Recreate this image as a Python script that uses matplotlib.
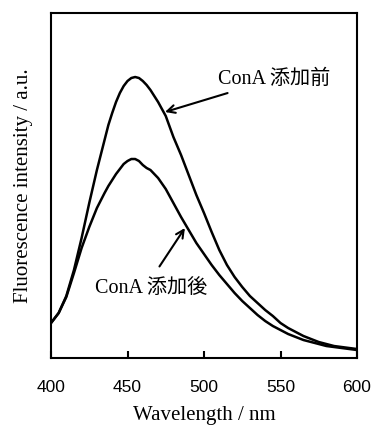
import matplotlib
matplotlib.use("Agg")
import matplotlib.pyplot as plt

# wavelength grid (nm) and intensities (a.u.)
wavelength = [400, 405, 410, 415, 420, 425, 430, 435, 437.5, 440, 442.5, 445,
              447.5, 450, 452.5, 455, 457.5, 460, 462.5, 465, 467.5, 470,
              475, 480, 485, 490, 495, 500, 505, 510, 515, 520, 525,
              530, 535, 540, 545, 550, 555, 560, 565, 570, 575, 580, 585, 590,
              595, 600]
before_cona = [35, 45, 62, 88, 120, 155, 188, 218, 233, 245, 256, 265,
               272, 277, 280, 281, 280, 277, 273, 268, 262, 256,
               242, 221, 203, 183, 163, 145, 126, 108, 93, 81, 71,
               62, 55, 48, 42, 35, 30, 26, 22, 19, 16, 14, 12, 11, 10, 9]
after_cona = [35, 45, 61, 85, 110, 131, 150, 165, 172, 178, 184, 189,
              194, 197, 199, 199, 197, 193, 190, 188, 184, 180,
              169, 155, 141, 128, 115, 104, 93, 83, 74, 65, 57,
              50, 43, 37, 32, 28, 24, 21, 18, 16, 14, 12, 11, 10, 9, 8]
xticks = [400, 450, 500, 550, 600]
label_before = "ConA 添加前"
label_after = "ConA 添加後"

serif = ["Liberation Serif", "Noto Sans CJK JP"]

fig = plt.figure(figsize=(3.72, 4.25), dpi=100)
ax = fig.add_axes([0.1371, 0.1576, 0.8226, 0.8118])

ax.plot(wavelength, before_cona, color="black", lw=1.8)
ax.plot(wavelength, after_cona, color="black", lw=1.8)

ax.set_xlim(400, 600)
ax.set_ylim(0, 345)
ax.set_xticks(xticks)
ax.set_yticks([])
ax.tick_params(axis="x", direction="in", length=5, width=1.5, pad=16)
for lab in ax.get_xticklabels():
    lab.set_family("Liberation Sans")
    lab.set_fontsize(12.5)
for sp in ax.spines.values():
    sp.set_linewidth(1.5)

ax.set_xlabel("Wavelength / nm", family=serif, fontsize=15, labelpad=8)
ax.set_ylabel("Fluorescence intensity / a.u.", family=serif, fontsize=15,
              labelpad=13)

ax.annotate(label_before, xy=(474.5, 246), xytext=(509, 279),
            family=serif, fontsize=14.5, va="center", ha="left",
            arrowprops=dict(arrowstyle="->", lw=1.5, color="black",
                            shrinkA=4, shrinkB=0, mutation_scale=14))
ax.annotate(label_after, xy=(487.5, 130), xytext=(429, 70),
            family=serif, fontsize=14.5, va="center", ha="left",
            arrowprops=dict(arrowstyle="->", lw=1.5, color="black",
                            shrinkA=8, shrinkB=0, mutation_scale=14,
                            relpos=(0.5, 1.0)))

fig.savefig("out.png", dpi=100)
